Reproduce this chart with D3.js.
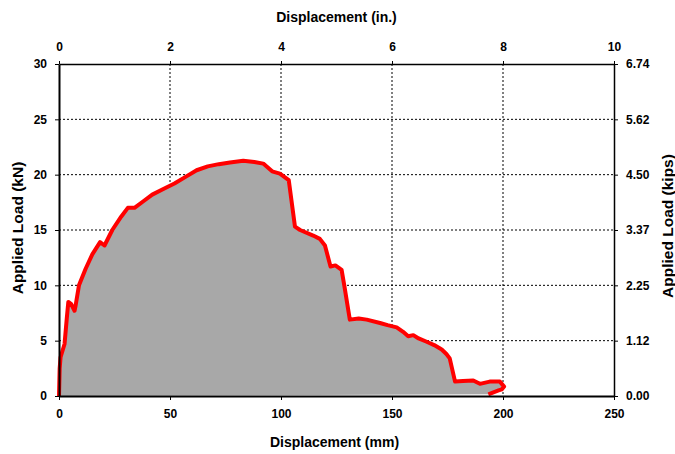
<!DOCTYPE html>
<html>
<head>
<meta charset="utf-8">
<script src="https://cdn.jsdelivr.net/npm/d3@7"></script>
<style>
  body { margin: 0; background: #fff; }
  text { font-family: "Liberation Sans", Arial, sans-serif; font-weight: bold; fill: #000; }
  .tick text { font-size: 12px; }
  .axis-title { font-size: 14px; }
  .axis-title-v { font-size: 15.5px; }
  .grid-line { stroke: #000; stroke-width: 1; stroke-dasharray: 2,2; }
</style>
</head>
<body>
<div id="chart"></div>
<script>
//////////////////////// Data ////////////////////////////////

// displacement (mm) and applied load (kN)
const dispMM = [0, 0.3, 0.7, 2.5, 3.5, 4.2, 5.5, 7, 7.5, 9, 12, 15, 18.5, 20.5, 24, 28, 31, 34, 38, 42, 47, 52, 57, 62, 67, 72, 77, 83, 88, 92, 96, 99.5, 103.5, 106.3, 108.6, 114.5, 117.5, 119.8, 122.3, 124.5, 127.3, 128.5, 131, 135, 138.6, 144.6, 148, 152.1, 155, 157.3, 159.6, 162, 165.6, 169, 172.4, 174.5, 176, 178.4, 182, 186.6, 189.6, 194, 198.6, 200.5, 199.5, 198, 193.4]
const loadKN = [0, 2.5, 3.5, 4.7, 7, 8.5, 8.3, 7.7, 8.2, 10, 11.5, 12.8, 13.9, 13.6, 15, 16.2, 17, 17, 17.6, 18.2, 18.7, 19.2, 19.8, 20.4, 20.75, 20.95, 21.1, 21.25, 21.15, 21.0, 20.3, 20.1, 19.5, 15.3, 15.0, 14.5, 14.2, 13.6, 11.7, 11.8, 11.4, 10.0, 6.9, 7.0, 6.9, 6.6, 6.4, 6.2, 5.8, 5.4, 5.5, 5.2, 4.9, 4.6, 4.2, 3.8, 3.4, 1.3, 1.35, 1.4, 1.1, 1.3, 1.3, 0.85, 0.6, 0.5, 0.15]

const xTicksMM = [0, 50, 100, 150, 200, 250]
const xTicksIn = [0, 2, 4, 6, 8, 10]
const yTicksKN = [0, 5, 10, 15, 20, 25, 30]
const yTicksKips = ["0.00", "1.12", "2.25", "3.37", "4.50", "5.62", "6.74"]

const data = dispMM.map((d, i) => ({x: d, y: loadKN[i]}))

//////////////////////// SVG /////////////////////////////////

const margin = {top: 64, right: 61, bottom: 58, left: 59}
const width = 675 - margin.left - margin.right
const height = 454 - margin.top - margin.bottom

const svg = d3.select("#chart").append("svg")
    .attr("width", 675)
    .attr("height", 454)
  .append("g")
    .attr("transform", "translate(" + margin.left + "," + margin.top + ")")

//////////////////////// Scales //////////////////////////////

const x = d3.scaleLinear().domain([0, 250]).range([0, width])
const xIn = d3.scaleLinear().domain([0, 10]).range([0, width])
const y = d3.scaleLinear().domain([0, 30]).range([height, 0])
const yKips = d3.scalePoint().domain(yTicksKips).range([height, 0])

//////////////////////// Gridlines ///////////////////////////

svg.selectAll(".grid-x")
    .data(xTicksMM.slice(1, -1))
    .enter().append("line")
    .attr("class", "grid-line")
    .attr("x1", d => x(d)).attr("x2", d => x(d))
    .attr("y1", 0).attr("y2", height)

svg.selectAll(".grid-y")
    .data(yTicksKN.slice(1, -1))
    .enter().append("line")
    .attr("class", "grid-line")
    .attr("x1", 0).attr("x2", width)
    .attr("y1", d => y(d)).attr("y2", d => y(d))

//////////////////////// Curve ///////////////////////////////

const line = d3.line().x(d => x(d.x)).y(d => y(d.y))

svg.append("path")
    .attr("d", line(data) + "Z")
    .style("fill", "#a8a8a8")
    .style("stroke", "none")

svg.append("path")
    .attr("d", line(data))
    .style("fill", "none")
    .style("stroke", "#ff0000")
    .style("stroke-width", 4)
    .style("stroke-linejoin", "round")

//////////////////////// Axes ////////////////////////////////

const styleAxis = g => {
    g.select(".domain").attr("stroke", "#000").attr("stroke-width", 2)
    g.selectAll(".tick line").attr("stroke", "#000").attr("stroke-width", 1)
}

svg.append("g")
    .attr("transform", "translate(0," + height + ")")
    .call(d3.axisBottom(x).tickValues(xTicksMM).tickSize(4).tickSizeOuter(0).tickPadding(9))
    .call(styleAxis)

svg.append("g")
    .call(d3.axisTop(xIn).tickValues(xTicksIn).tickSize(3).tickSizeOuter(0).tickPadding(10))
    .call(styleAxis)
    .call(g => g.select(".domain").attr("stroke-width", 1.5))

svg.append("g")
    .call(d3.axisLeft(y).tickValues(yTicksKN).tickSize(4).tickSizeOuter(0).tickPadding(8))
    .call(styleAxis)

svg.append("g")
    .attr("transform", "translate(" + width + ",0)")
    .call(d3.axisRight(yKips).tickSize(4).tickSizeOuter(0).tickPadding(8))
    .call(styleAxis)
    .call(g => g.select(".domain").attr("stroke-width", 1.5))

//////////////////////// Titles //////////////////////////////

svg.append("text")
    .attr("class", "axis-title")
    .attr("x", width / 2 - 2).attr("y", height + 51)
    .attr("text-anchor", "middle")
    .text("Displacement (mm)")

svg.append("text")
    .attr("class", "axis-title")
    .attr("x", width / 2).attr("y", -42)
    .attr("text-anchor", "middle")
    .text("Displacement (in.)")

svg.append("text")
    .attr("class", "axis-title axis-title-v")
    .attr("transform", "translate(-36," + (height / 2 - 2) + ") rotate(-90)")
    .attr("text-anchor", "middle")
    .text("Applied Load (kN)")

svg.append("text")
    .attr("class", "axis-title axis-title-v")
    .attr("transform", "translate(" + (width + 59) + "," + (height / 2 - 4) + ") rotate(-90)")
    .attr("text-anchor", "middle")
    .text("Applied Load (kips)")
</script>
</body>
</html>
